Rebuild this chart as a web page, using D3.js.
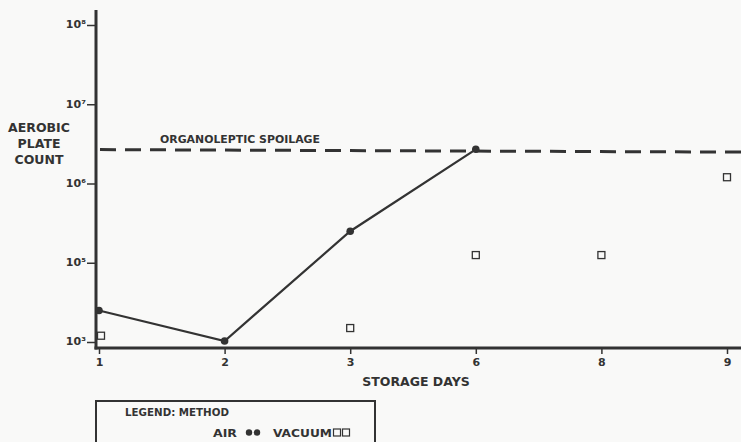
<!DOCTYPE html>
<html><head><meta charset="utf-8">
<script src="https://cdn.jsdelivr.net/npm/d3@7"></script>
<style>
body{margin:0;background:#f9f9f8;}
svg{display:block;}
text{font-family:"DejaVu Sans",sans-serif;font-weight:bold;fill:#333;}
</style></head><body>
<script>
const days = ["1","2","3","6","8","9"];
const airDays = ["1","2","3","6"];
const airValues = [2.5e4, 1.03e4, 2.5e5, 2.7e6];
const vacuumDays = ["1","3","6","8","9"];
const vacuumValues = [1.2e4, 1.5e4, 1.25e5, 1.25e5, 1.2e6];
const spoilageValue = 2.6e6;
const yTickValues = [1e4, 1e5, 1e6, 1e7, 1e8];
const yTickLabels = ["10³", "10⁵", "10⁶", "10⁷", "10⁸"];

const W = 741, H = 442;
const svg = d3.select("body").append("svg").attr("width", W).attr("height", H);
const ink = "#333";

const x = d3.scalePoint().domain(days).range([99, 727]);
const y = d3.scaleLog().domain([1e4, 1e8]).range([342, 25]);

// axes lines
const axisX = 96, axisY = 348;
svg.append("line").attr("x1", axisX).attr("x2", axisX).attr("y1", 10).attr("y2", axisY + 1.5)
  .attr("stroke", ink).attr("stroke-width", 3);
svg.append("line").attr("x1", axisX - 1.5).attr("x2", W).attr("y1", axisY).attr("y2", axisY)
  .attr("stroke", ink).attr("stroke-width", 3);

// y ticks
const yAxis = svg.append("g").attr("transform", `translate(${axisX},0)`)
  .call(d3.axisLeft(y).tickValues(yTickValues).tickSize(9).tickFormat((d, i) => yTickLabels[i]));
yAxis.select(".domain").remove();
yAxis.selectAll(".tick line").attr("stroke", ink).attr("stroke-width", 1.5);
yAxis.selectAll(".tick text").attr("font-size", 11).attr("x", -10).attr("dy", "0.25em")
  .style("font-family", "DejaVu Sans").style("font-weight", "bold").attr("fill", ink);

// x ticks
const xAxis = svg.append("g").attr("transform", `translate(0,${axisY})`)
  .call(d3.axisBottom(x).tickSize(6));
xAxis.select(".domain").remove();
xAxis.selectAll(".tick line").attr("stroke", ink).attr("stroke-width", 1.5);
xAxis.selectAll(".tick text").attr("font-size", 11).attr("dy", "0.85em")
  .style("font-family", "DejaVu Sans").style("font-weight", "bold").attr("fill", ink);

// axis titles
svg.append("text").attr("x", 416).attr("y", 386).attr("text-anchor", "middle")
  .attr("font-size", 12.5).text("STORAGE DAYS");
const yt = svg.append("text").attr("x", 39).attr("text-anchor", "middle").attr("font-size", 12.5);
["AEROBIC", "PLATE", "COUNT"].forEach((t, i) =>
  yt.append("tspan").attr("x", 39).attr("y", 132 + i * 16).text(t));

// spoilage line
svg.append("line").attr("x1", 100).attr("x2", W).attr("y1", y(spoilageValue) - 1).attr("y2", y(spoilageValue) + 1.5)
  .attr("stroke", ink).attr("stroke-width", 3).attr("stroke-dasharray", "16,9");
svg.append("text").attr("x", 160).attr("y", y(spoilageValue) - 8).attr("font-size", 10.5)
  .attr("textLength", 160).attr("lengthAdjust", "spacingAndGlyphs")
  .text("ORGANOLEPTIC SPOILAGE");

// air line
const airData = airDays.map((d, i) => [d, airValues[i]]);
svg.append("path").datum(airData)
  .attr("d", d3.line().x(d => x(d[0])).y(d => y(d[1])))
  .attr("fill", "none").attr("stroke", ink).attr("stroke-width", 2.2);
svg.selectAll(".air").data(airData).enter().append("circle")
  .attr("cx", d => x(d[0])).attr("cy", d => y(d[1])).attr("r", 3.8).attr("fill", ink);

// vacuum squares
const vacData = vacuumDays.map((d, i) => [d, vacuumValues[i]]);
svg.selectAll(".vac").data(vacData).enter().append("rect")
  .attr("x", d => x(d[0]) - 3.5 + (d[0] === "1" ? 2 : 0)).attr("y", d => y(d[1]) - 3.5)
  .attr("width", 7).attr("height", 7).attr("fill", "none").attr("stroke", ink).attr("stroke-width", 1.3);

// legend
svg.append("rect").attr("x", 96).attr("y", 401).attr("width", 279).attr("height", 45)
  .attr("fill", "none").attr("stroke", ink).attr("stroke-width", 2);
svg.append("text").attr("x", 125).attr("y", 415.5).attr("font-size", 10.5)
  .attr("textLength", 104).attr("lengthAdjust", "spacingAndGlyphs").text("LEGEND: METHOD");
svg.append("text").attr("x", 213).attr("y", 436.5).attr("font-size", 10.5)
  .attr("textLength", 24).attr("lengthAdjust", "spacingAndGlyphs").text("AIR");
[249, 257].forEach(cx => svg.append("circle").attr("cx", cx).attr("cy", 432.5).attr("r", 3.2).attr("fill", ink));
svg.append("text").attr("x", 273).attr("y", 436.5).attr("font-size", 10.5)
  .attr("textLength", 59).attr("lengthAdjust", "spacingAndGlyphs").text("VACUUM");
[337, 346].forEach(rx => svg.append("rect").attr("x", rx - 3.5).attr("y", 429).attr("width", 7).attr("height", 7)
  .attr("fill", "none").attr("stroke", ink).attr("stroke-width", 1.2));
</script>
</body></html>
